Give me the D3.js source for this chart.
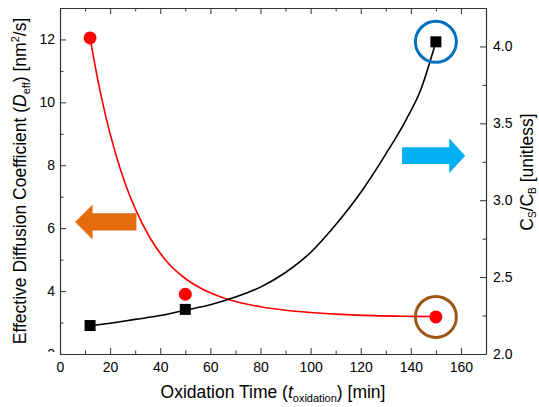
<!DOCTYPE html>
<html lang="en">
<head>
<meta charset="utf-8">
<script src="https://cdn.jsdelivr.net/npm/d3@7"></script>
<style>
  body { margin: 0; background: #fff; }
  text { font-family: "Liberation Sans", Arial, sans-serif; fill: #000; }
</style>
</head>
<body>
<div id="chart"></div>
<script>
"use strict";

// measured points
var oxTime = [12, 50, 150];
var deffVals = [12.05, 3.9, 3.18];
var ratioVals = [2.185, 2.29, 4.03];

// fitted curves
var deffFitT = [12, 15, 18, 22, 26, 30, 36, 42, 50, 56, 64, 72, 80, 90, 100, 112, 125, 138, 150];
var deffFitV = [12.05, 10.75, 9.64, 8.42, 7.42, 6.62, 5.68, 5.0, 4.4, 4.1, 3.82, 3.63, 3.5, 3.39, 3.32, 3.26, 3.22, 3.2, 3.19];
var ratioFitT = [12, 20, 30, 40, 50, 60, 70, 80, 90, 100, 110, 120, 130, 138, 144, 150];
var ratioFitV = [2.185, 2.2, 2.225, 2.25, 2.285, 2.32, 2.37, 2.435, 2.53, 2.66, 2.84, 3.05, 3.3, 3.52, 3.72, 4.03];

var xTicks = [0, 20, 40, 60, 80, 100, 120, 140, 160];
var leftTicks = [2, 4, 6, 8, 10, 12];
var rightTicks = [2.0, 2.5, 3.0, 3.5, 4.0];

var W = 539, H = 407;
var margin = {top: 8, right: 53, bottom: 53, left: 60};

var svg = d3.select("#chart").append("svg")
  .attr("width", W).attr("height", H);

var x = d3.scaleLinear().domain([0, 170]).range([margin.left, W - margin.right]);
var yL = d3.scaleLinear().domain([2, 13]).range([H - margin.bottom, margin.top]);
var yR = d3.scaleLinear().domain([2, 4.25]).range([H - margin.bottom, margin.top]);

var x0 = x.range()[0], x1 = x.range()[1], yb = yL.range()[0], yt = yL.range()[1];

// clip for the bottom-left "2" which is cut in the original (group coords are shifted by x0)
svg.append("clipPath").attr("id", "clipL")
  .append("rect").attr("x", -x0).attr("y", 0).attr("width", x0).attr("height", yb - 2);

function styleAxis(g) {
  g.selectAll("path").attr("stroke", "#333").attr("stroke-width", 1.2);
  g.selectAll("line").attr("stroke", "#333");
  g.selectAll("text").attr("font-size", 14).attr("font-family", "Liberation Sans, Arial, sans-serif").attr("fill", "#000");
}
function minorOnly(g) {
  g.select("path").remove();
  g.selectAll("line").attr("stroke", "#333");
}

var minorX = d3.range(10, 170, 20);
var minorL = d3.range(3, 13, 2);
var minorR = [2.25, 2.75, 3.25, 3.75];

// bottom + top
svg.append("g").attr("transform", "translate(0," + yb + ")")
  .call(d3.axisBottom(x).tickValues(xTicks).tickSizeInner(-6).tickSizeOuter(0).tickPadding(8).tickFormat(d3.format("d")))
  .call(styleAxis);
svg.append("g").attr("transform", "translate(0," + yb + ")")
  .call(d3.axisBottom(x).tickValues(minorX).tickSize(-3.5).tickFormat(""))
  .call(minorOnly);
svg.append("g").attr("transform", "translate(0," + yt + ")")
  .call(d3.axisTop(x).tickValues(xTicks).tickSizeInner(-6).tickSizeOuter(0).tickFormat(""))
  .call(styleAxis);
svg.append("g").attr("transform", "translate(0," + yt + ")")
  .call(d3.axisTop(x).tickValues(minorX).tickSize(-3.5).tickFormat(""))
  .call(minorOnly);

// left
svg.append("g").attr("transform", "translate(" + x0 + ",0)")
  .attr("clip-path", "url(#clipL)")
  .call(d3.axisLeft(yL).tickValues(leftTicks).tickSizeInner(0).tickSizeOuter(0).tickPadding(5).tickFormat(d3.format("d")))
  .call(styleAxis)
  .call(function(g) { g.select("path").remove(); });
svg.append("g").attr("transform", "translate(" + x0 + ",0)")
  .call(d3.axisLeft(yL).tickValues(leftTicks).tickSizeInner(-6).tickSizeOuter(0).tickFormat(""))
  .call(styleAxis);
svg.append("g").attr("transform", "translate(" + x0 + ",0)")
  .call(d3.axisLeft(yL).tickValues(minorL).tickSize(-3.5).tickFormat(""))
  .call(minorOnly);

// right
svg.append("g").attr("transform", "translate(" + x1 + ",0)")
  .call(d3.axisRight(yR).tickValues(rightTicks).tickSizeInner(-6).tickSizeOuter(0).tickPadding(7).tickFormat(d3.format(".1f")))
  .call(styleAxis);
svg.append("g").attr("transform", "translate(" + x1 + ",0)")
  .call(d3.axisRight(yR).tickValues(minorR).tickSize(-3.5).tickFormat(""))
  .call(minorOnly);

// fitted lines
var deffLine = d3.line()
  .x(function(d, i) { return x(deffFitT[i]); })
  .y(function(d) { return yL(d); })
  .curve(d3.curveMonotoneX);
svg.append("path").datum(deffFitV)
  .attr("d", deffLine).attr("fill", "none").attr("stroke", "#ff0000").attr("stroke-width", 1.6);

var ratioLine = d3.line()
  .x(function(d, i) { return x(ratioFitT[i]); })
  .y(function(d) { return yR(d); })
  .curve(d3.curveMonotoneX);
svg.append("path").datum(ratioFitV)
  .attr("d", ratioLine).attr("fill", "none").attr("stroke", "#000").attr("stroke-width", 1.6);

// markers
svg.selectAll("circle.deff").data(deffVals).enter().append("circle")
  .attr("class", "deff")
  .attr("cx", function(d, i) { return x(oxTime[i]); })
  .attr("cy", function(d) { return yL(d); })
  .attr("r", 6.5).attr("fill", "#ff0000");

svg.selectAll("rect.ratio").data(ratioVals).enter().append("rect")
  .attr("class", "ratio")
  .attr("x", function(d, i) { return x(oxTime[i]) - 5.5; })
  .attr("y", function(d) { return yR(d) - 5.5; })
  .attr("width", 11).attr("height", 11).attr("fill", "#000");

// highlight rings at the last point
svg.append("circle")
  .attr("cx", x(oxTime[2])).attr("cy", yR(ratioVals[2])).attr("r", 20.5)
  .attr("fill", "none").attr("stroke", "#0070c0").attr("stroke-width", 3);
svg.append("circle")
  .attr("cx", x(oxTime[2])).attr("cy", yL(deffVals[2])).attr("r", 20.5)
  .attr("fill", "none").attr("stroke", "#9c5716").attr("stroke-width", 3);

// block arrows pointing at each axis
function arrow(tipX, baseX, headX, cy, shaftH, headH, color) {
  var pts = [
    [tipX, cy], [headX, cy - headH], [headX, cy - shaftH], [baseX, cy - shaftH],
    [baseX, cy + shaftH], [headX, cy + shaftH], [headX, cy + headH]
  ];
  svg.append("path").attr("d", d3.line()(pts) + "Z").attr("fill", color);
}
arrow(x(6), x(30.5), x(13), yL(6.2), 8.7, 17.5, "#e46c0a");
arrow(x(161.7), x(136.5), x(155.3), yR(3.29), 8.3, 17.5, "#00b0f0");

// axis titles
var xt = svg.append("text").attr("x", (x0 + x1) / 2).attr("y", 398)
  .attr("text-anchor", "middle").attr("font-size", 17.5);
xt.append("tspan").text("Oxidation Time (");
xt.append("tspan").attr("font-style", "italic").text("t");
xt.append("tspan").attr("font-size", 11).attr("dy", 4).text("oxidation");
xt.append("tspan").attr("dy", -4).text(") [min]");

var lt = svg.append("text")
  .attr("transform", "translate(26," + ((yt + yb) / 2) + ") rotate(-90)")
  .attr("text-anchor", "middle").attr("font-size", 17.5);
lt.append("tspan").text("Effective Diffusion Coefficient (");
lt.append("tspan").attr("font-style", "italic").text("D");
lt.append("tspan").attr("font-size", 11).attr("dy", 4).text("eff");
lt.append("tspan").attr("dy", -4).text(") [nm");
lt.append("tspan").attr("font-size", 11).attr("dy", -7).text("2");
lt.append("tspan").attr("dy", 7).text("/s]");

var rt = svg.append("text")
  .attr("transform", "translate(533,172) rotate(-90)")
  .attr("text-anchor", "middle").attr("font-size", 17.5);
rt.append("tspan").text("C");
rt.append("tspan").attr("font-size", 10).attr("dy", 3).text("S");
rt.append("tspan").attr("dy", -3).text("/C");
rt.append("tspan").attr("font-size", 10).attr("dy", 3).text("B");
rt.append("tspan").attr("dy", -3).text(" [unitless]");
</script>
</body>
</html>
